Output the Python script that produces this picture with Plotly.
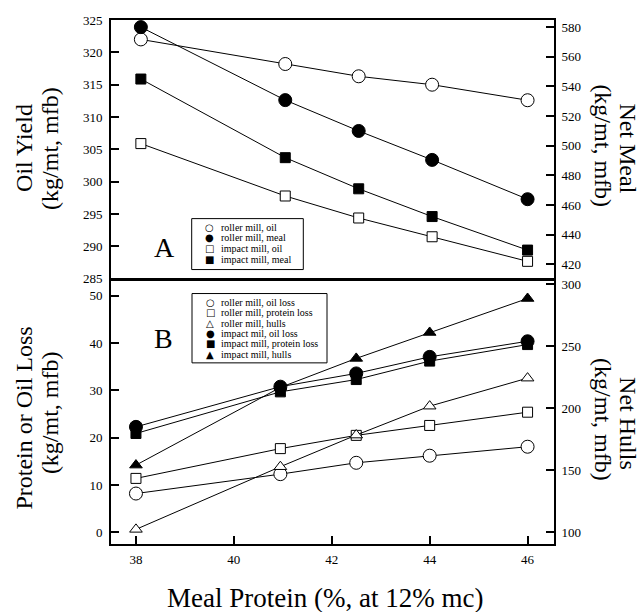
import plotly.graph_objects as go

# ---------------- data ----------------
x_top = [38.1, 41.05, 42.55, 44.05, 46.0]
roller_oil = [322.0, 318.2, 316.3, 315.0, 312.6]        # Oil Yield (left)
roller_meal = [580.0, 530.8, 510.0, 490.5, 464.0]       # Net Meal (right)
impact_oil = [305.9, 297.8, 294.4, 291.5, 287.7]        # Oil Yield (left)
impact_meal = [545.0, 492.0, 471.0, 452.3, 429.7]       # Net Meal (right)

x_bot = [38.0, 40.95, 42.5, 44.0, 46.0]
roller_oil_loss = [8.2, 12.3, 14.7, 16.2, 18.1]
roller_protein_loss = [11.4, 17.7, 20.5, 22.6, 25.4]
roller_hulls = [102.4, 152.9, 178.4, 201.7, 224.3]      # Net Hulls (right)
impact_oil_loss = [22.3, 30.8, 33.6, 37.1, 40.4]
impact_protein_loss = [20.9, 29.7, 32.3, 36.2, 39.7]
impact_hulls = [154.2, 216.8, 240.2, 261.1, 288.5]      # Net Hulls (right)

x_ticks = [38, 40, 42, 44, 46]
oil_yield_ticks = [285, 290, 295, 300, 305, 310, 315, 320, 325]
net_meal_ticks = [420, 440, 460, 480, 500, 520, 540, 560, 580]
loss_ticks = [0, 10, 20, 30, 40, 50]
hull_ticks = [100, 150, 200, 250, 300]

legend_a = [("○", "roller mill, oil"), ("●", "roller mill, meal"),
            ("□", "impact mill, oil"), ("■", "impact mill, meal")]
legend_b = [("○", "roller mill, oil loss"), ("□", "roller mill, protein loss"),
            ("△", "roller mill, hulls"), ("●", "impact mil, oil loss"),
            ("■", "impact mill, protein loss"), ("▲", "impact mill, hulls")]

# ---------------- layout constants ----------------
W, H = 640, 612
L, R, T, B = 111, 86, 19.5, 68
PW = W - L - R
PH = H - T - B
SERIF = "Liberation Serif"


def px(xp):
    return (xp - L) / PW


def py(yp):
    return (H - B - yp) / PH


fig = go.Figure()


def add(x, y, xa, ya, symbol, filled, size):
    fig.add_trace(go.Scatter(
        x=x, y=y, xaxis=xa, yaxis=ya, mode="lines+markers",
        line=dict(color="black", width=1),
        marker=dict(symbol=symbol, size=size,
                    color="black" if filled else "white",
                    line=dict(color="black", width=1)),
        showlegend=False, hoverinfo="skip"))


# top panel
add(x_top, roller_oil, "x2", "y3", "circle", False, 13)
add(x_top, impact_oil, "x2", "y3", "square", False, 10)
add(x_top, roller_meal, "x2", "y4", "circle", True, 13)
add(x_top, impact_meal, "x2", "y4", "square", True, 10)

# bottom panel
add(x_bot, roller_oil_loss, "x", "y", "circle", False, 13)
add(x_bot, roller_protein_loss, "x", "y", "square", False, 10)
add(x_bot, impact_oil_loss, "x", "y", "circle", True, 13)
add(x_bot, impact_protein_loss, "x", "y", "square", True, 10)
add(x_bot, roller_hulls, "x", "y2", "triangle-up", False, 11)
add(x_bot, impact_hulls, "x", "y2", "triangle-up", True, 11)

axis_common = dict(showline=True, linecolor="black", linewidth=2,
                   ticks="inside", ticklen=8, tickwidth=2, tickcolor="black",
                   showgrid=False, zeroline=False,
                   tickfont=dict(family=SERIF, size=13, color="black"))

bot_dom = [0, py(280)]
top_dom = [py(279.2), 1]
xr = [37.49, 46.54]

fig.update_layout(
    width=W, height=H, margin=dict(l=L, r=R, t=T, b=B),
    paper_bgcolor="white", plot_bgcolor="white",
    font=dict(family=SERIF, color="black"),
    xaxis=dict(**axis_common, domain=[0, 1], anchor="y", range=xr,
               tickvals=x_ticks, mirror=True, ticklabelstandoff=2),
    xaxis2=dict(showline=True, linecolor="black", linewidth=2, mirror=True,
                showgrid=False, zeroline=False, domain=[0, 1], anchor="y3",
                range=xr, showticklabels=False, ticks=""),
    yaxis=dict(**axis_common, domain=bot_dom, anchor="x", range=[-2.47, 53.3],
               tickvals=loss_ticks, ticklabelstandoff=4),
    yaxis2=dict(**axis_common, domain=bot_dom, anchor="x", overlaying="y",
                side="right", range=[90.6, 303.2], tickvals=hull_ticks,
                ticklabelstandoff=3),
    yaxis3=dict(**axis_common, domain=top_dom, anchor="x2", range=[284.9, 325],
                tickvals=oil_yield_ticks, ticklabelstandoff=4),
    yaxis4=dict(**axis_common, domain=top_dom, anchor="x2", overlaying="y3",
                side="right", range=[409.9, 584.8], tickvals=net_meal_ticks,
                ticklabelstandoff=3),
)

ann = []


def text(t, xp, yp, size, angle=0, xanchor="center", family=SERIF):
    ann.append(dict(text=t, x=px(xp), y=py(yp), xref="paper", yref="paper",
                    showarrow=False, textangle=angle, xanchor=xanchor,
                    yanchor="middle", font=dict(family=family, size=size,
                                                color="black")))


# axis titles
text("Oil Yield", 24.5, 148, 24, -90)
text("(kg/mt, mfb)", 50, 148.5, 24, -90)
text("Net Meal", 628, 148, 24, 90)
text("(kg/mt, mfb)", 603, 145, 24, 90)
text("Protein or Oil Loss", 24.5, 418, 24, -90)
text("(kg/mt, mfb)", 50, 413, 24, -90)
text("Net Hulls", 628, 423, 24, 90)
text("(kg/mt, mfb)", 603, 419, 24, 90)
text("Meal Protein (%, at 12% mc)", 325, 598, 27)

# panel letters
text("A", 164, 247, 28)
text("B", 163, 338, 28)

# legends
shapes = []


def legend(entries, box, sym_x, txt_x, y0, dy):
    x0, yt, x1, yb = box
    shapes.append(dict(type="rect", xref="paper", yref="paper",
                       x0=px(x0), x1=px(x1), y0=py(yb), y1=py(yt),
                       line=dict(color="black", width=1), fillcolor="white"))
    for i, (s, lab) in enumerate(entries):
        yy = y0 + i * dy
        text(s, sym_x, yy, 10, family="DejaVu Sans")
        text(lab, txt_x, yy, 10, xanchor="left")


legend(legend_a, (191.7, 218.3, 303.3, 269.3), 209, 219, 227, 10.7)
legend(legend_b, (192, 293.3, 327, 362.7), 210, 219, 302, 10.45)

fig.update_layout(annotations=ann, shapes=shapes)

fig.write_html("out.html", config={"displayModeBar": False},
               post_script="document.body.style.margin='0px';")
